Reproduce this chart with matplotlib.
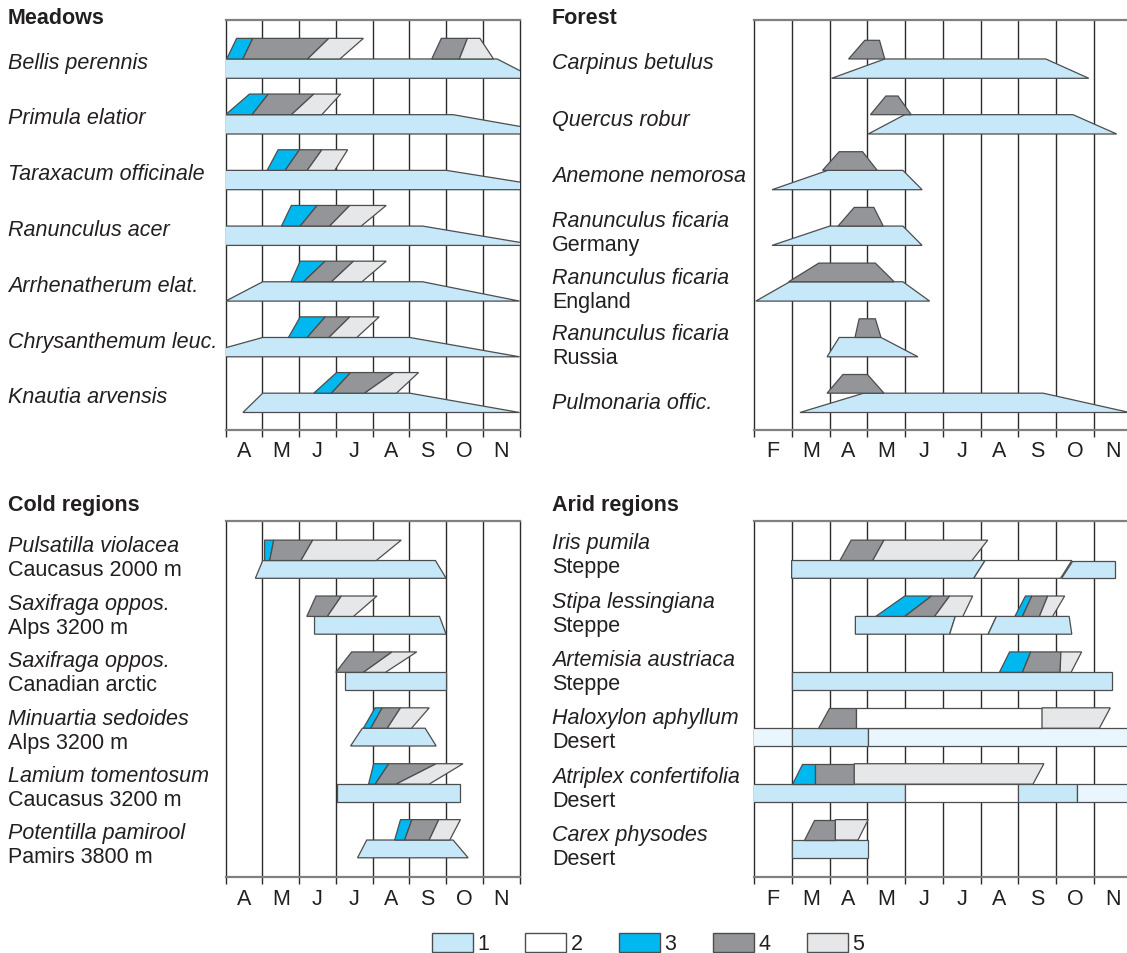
import matplotlib
matplotlib.use('Agg')
import matplotlib.pyplot as plt
from matplotlib.patches import Polygon, Patch

plt.rcParams['font.family'] = ['Liberation Sans', 'DejaVu Sans']

W, H = 1127, 954
fig = plt.figure(figsize=(W / 100, H / 100), dpi=100)

# colour codes used below: 0 = pale blue, 1..5 = legend entries
colors = {0: '#EAF6FD', 1: '#C6E8F8', 2: '#FFFFFF', 3: '#00B8F0', 4: '#939598', 5: '#E6E7E8'}
edge = '#4D4D4D'
ink = '#231F20'
fs = 15.5

months_8 = ['A', 'M', 'J', 'J', 'A', 'S', 'O', 'N']
months_10 = ['F', 'M', 'A', 'M', 'J', 'J', 'A', 'S', 'O', 'N']

# every strip is a list of boundaries (x at bottom edge, x at top edge) in months
# from the first month shown, plus the colour code of each piece between them

# ---------- Meadows
meadow_names = ['Bellis perennis', 'Primula elatior', 'Taraxacum officinale', 'Ranunculus acer',
                'Arrhenatherum elat.', 'Chrysanthemum leuc.', 'Knautia arvensis']
meadow_subs = [''] * 7
meadow_bars = [
    ([(-0.05, -0.05), (8.41, 7.39)], [1]),
    ([(-0.05, -0.05), (9.18, 6.19)], [1]),
    ([(-0.05, -0.05), (9.31, 6.01)], [1]),
    ([(-0.05, -0.05), (8.5, 5.36)], [1]),
    ([(0.0, 1.01), (8.0, 5.36)], [1]),
    ([(-0.89, 1.01), (8.0, 5.01)], [1]),
    ([(0.47, 1.01), (8.0, 5.01)], [1]),
]
meadow_bands = [
    [([(0.03, 0.30), (0.47, 0.74), (2.23, 2.81), (3.11, 3.75)], [3, 4, 5]),
     ([(5.61, 5.87), (6.36, 6.58), (7.29, 6.92)], [4, 5])],
    [([(0.0, 0.65), (0.72, 1.16), (1.79, 2.40), (2.62, 3.13)], [3, 4, 5])],
    [([(1.13, 1.43), (1.62, 2.01), (2.22, 2.62), (2.97, 3.32)], [3, 4, 5])],
    [([(1.52, 1.79), (2.03, 2.49), (2.83, 3.38), (3.69, 4.37)], [3, 4, 5])],
    [([(1.78, 2.03), (2.12, 2.71), (2.88, 3.48), (3.71, 4.37)], [3, 4, 5])],
    [([(1.71, 2.03), (2.22, 2.71), (2.81, 3.38), (3.57, 4.18)], [3, 4, 5])],
    [([(2.40, 3.02), (2.88, 3.40), (3.78, 4.58), (4.65, 5.25)], [3, 4, 5])],
]

# ---------- Forest
forest_names = ['Carpinus betulus', 'Quercus robur', 'Anemone nemorosa', 'Ranunculus ficaria',
                'Ranunculus ficaria', 'Ranunculus ficaria', 'Pulmonaria offic.']
forest_subs = ['', '', '', 'Germany', 'England', 'Russia', '']
forest_bars = [
    ([(2.05, 3.46), (8.87, 7.73)], [1]),
    ([(3.02, 3.99), (9.61, 8.45)], [1]),
    ([(0.47, 1.95), (4.45, 3.94)], [1]),
    ([(0.47, 2.00), (4.45, 3.94)], [1]),
    ([(0.04, 0.94), (4.65, 3.94)], [1]),
    ([(1.93, 2.25), (4.34, 3.36)], [1]),
    ([(1.21, 2.90), (9.95, 7.66)], [1]),
]
forest_bands = [
    [([(2.50, 2.93), (3.46, 3.32)], [4])],
    [([(3.08, 3.49), (4.16, 3.81)], [4])],
    [([(1.81, 2.25), (3.26, 2.87)], [4])],
    [([(2.22, 2.65), (3.42, 3.17)], [4])],
    [([(0.91, 1.71), (3.71, 3.21)], [4])],
    [([(2.67, 2.78), (3.36, 3.21)], [4])],
    [([(1.93, 2.35), (3.44, 3.00)], [4])],
]

# ---------- Cold regions
cold_names = ['Pulsatilla violacea', 'Saxifraga oppos.', 'Saxifraga oppos.', 'Minuartia sedoides',
              'Lamium tomentosum', 'Potentilla pamirool']
cold_subs = ['Caucasus 2000 m', 'Alps 3200 m', 'Canadian arctic', 'Alps 3200 m',
             'Caucasus 3200 m', 'Pamirs 3800 m']
cold_bars = [
    ([(0.81, 1.01), (6.00, 5.71)], [1]),
    ([(2.42, 2.42), (6.00, 5.82)], [1]),
    ([(3.26, 3.26), (6.00, 6.00)], [1]),
    ([(3.40, 3.72), (5.73, 5.43)], [1]),
    ([(3.02, 3.02), (6.37, 6.37)], [1]),
    ([(3.59, 3.84), (6.60, 6.19)], [1]),
]
cold_bands = [
    [([(1.06, 1.06), (1.20, 1.31), (2.05, 2.37), (4.10, 4.78)], [3, 4, 5])],
    [([(2.21, 2.46), (2.77, 3.15), (3.48, 4.12)], [4, 5])],
    [([(3.00, 3.43), (3.75, 4.53), (4.35, 5.20)], [4, 5])],
    [([(3.75, 4.07), (3.95, 4.26), (4.40, 4.76), (5.06, 5.54)], [3, 4, 5])],
    [([(3.89, 4.03), (4.07, 4.44), (4.64, 5.73), (5.54, 6.46)], [3, 4, 5])],
    [([(4.60, 4.76), (4.87, 5.07), (5.54, 5.80), (6.10, 6.39)], [3, 4, 5])],
]

# ---------- Arid regions
arid_names = ['Iris pumila', 'Stipa lessingiana', 'Artemisia austriaca', 'Haloxylon aphyllum',
              'Atriplex confertifolia', 'Carex physodes']
arid_subs = ['Steppe', 'Steppe', 'Steppe', 'Desert', 'Desert', 'Desert']
arid_bars = [
    ([(0.99, 0.99), (5.82, 6.12), (8.12, 8.42), (9.56, 9.56)], [1, 2, 1]),
    ([(2.68, 2.68), (5.18, 5.33), (6.20, 6.42), (8.42, 8.35)], [1, 2, 1]),
    ([(0.99, 0.99), (9.49, 9.49)], [1]),
    ([(-0.1, -0.1), (0.99, 0.99), (3.02, 3.02), (10.3, 10.3)], [0, 1, 0]),
    ([(-0.1, -0.1), (3.99, 3.99), (6.99, 6.99), (8.55, 8.55), (10.3, 10.3)], [1, 2, 1, 0]),
    ([(0.99, 0.99), (3.02, 3.02)], [1]),
]
arid_bands = [
    [([(2.27, 2.57), (3.14, 3.44), (5.77, 6.19)], [4, 5])],
    [([(3.22, 3.99), (3.99, 4.70), (4.78, 5.18), (5.53, 5.79)], [3, 4, 5]),
     ([(6.91, 7.19), (7.11, 7.36), (7.56, 7.78), (7.91, 8.23)], [3, 4, 5])],
    [([(6.50, 6.77), (7.11, 7.33), (8.11, 8.13), (8.40, 8.68)], [3, 4, 5])],
    [([(1.68, 1.98), (2.70, 2.70), (7.63, 7.63), (9.15, 9.44)], [4, 2, 5])],
    [([(0.99, 1.26), (1.61, 1.61), (2.65, 2.65), (7.39, 7.68)], [3, 4, 5])],
    [([(1.31, 1.59), (2.15, 2.15), (2.75, 3.02)], [4, 5])],
]


def strip(ax, y_bottom, height, bounds, codes):
    for k, c in enumerate(codes):
        (b0, t0), (b1, t1) = bounds[k], bounds[k + 1]
        pts = [(b0, y_bottom), (b1, y_bottom), (t1, y_bottom - height), (t0, y_bottom - height)]
        ax.add_patch(Polygon(pts, closed=True, facecolor=colors[c], edgecolor=edge,
                             lw=0.9, joinstyle='miter', zorder=3))


def panel(box, months, title, title_y, names, subs, bars, bands, label_x, label_y0, label_step,
          pitch, first, bar_h, band_h):
    left, top, right, bottom = box
    ax = fig.add_axes([left / W, 1 - bottom / H, (right - left) / W, (bottom - top) / H])
    n = len(months)
    rows = (bottom - top) / pitch
    ax.set_xlim(0, n)
    ax.set_ylim(rows, 0)

    ax.vlines(range(1, n), 0, rows, colors='#2B2B2B', lw=1.0, zorder=1)
    for i in range(len(names)):
        yb = first + i
        strip(ax, yb, bar_h, bars[i][0], bars[i][1])
        for b, c in bands[i]:
            strip(ax, yb - bar_h, band_h, b, c)

    ax.set_xticks(range(n + 1))
    ax.set_xticklabels([])
    ax.set_xticks([k + 0.5 for k in range(n)], minor=True)
    ax.set_xticklabels(months, minor=True, fontsize=fs, color=ink)
    ax.tick_params(axis='x', which='major', length=5.2, width=1.0, color='#2B2B2B', direction='out')
    ax.tick_params(axis='x', which='minor', length=0, pad=7.5)
    ax.set_yticks([])
    for s in ['top', 'bottom']:
        ax.spines[s].set_color('#808080')
        ax.spines[s].set_linewidth(1.6)
    for s in ['left', 'right']:
        ax.spines[s].set_color('#2B2B2B')
        ax.spines[s].set_linewidth(1.0)

    fig.text(label_x / W, 1 - title_y / H, title, fontsize=fs, fontweight='bold',
             color=ink, va='center', ha='left')
    for i, name in enumerate(names):
        yc = label_y0 + i * label_step
        if subs[i]:
            fig.text(label_x / W, 1 - (yc - 12) / H, name, fontsize=fs, style='italic',
                     color=ink, va='center', ha='left')
            fig.text(label_x / W, 1 - (yc + 12) / H, subs[i], fontsize=fs,
                     color=ink, va='center', ha='left')
        else:
            fig.text(label_x / W, 1 - yc / H, name, fontsize=fs, style='italic',
                     color=ink, va='center', ha='left')
    return ax


panel((225.6, 20.7, 519.6, 431.0), months_8, 'Meadows', 18, meadow_names, meadow_subs,
      meadow_bars, meadow_bands, 8, 63.2, 55.8, 55.7, 58.6 / 55.7, 0.347, 0.37)
panel((754.3, 20.7, 1131.4, 431.0), months_10, 'Forest', 18, forest_names, forest_subs,
      forest_bars, forest_bands, 552, 63.8, 56.6, 55.7, 58.6 / 55.7, 0.347, 0.335)
panel((225.6, 521.7, 519.6, 878.3), months_8, 'Cold regions', 506, cold_names, cold_subs,
      cold_bars, cold_bands, 8, 559.0, 57.4, 55.9, 57.6 / 55.9, 0.318, 0.365)
panel((754.3, 521.7, 1131.4, 878.3), months_10, 'Arid regions', 506, arid_names, arid_subs,
      arid_bars, arid_bands, 552, 556.0, 58.3, 55.9, 57.6 / 55.9, 0.318, 0.365)

handles = [Patch(facecolor=colors[k], edgecolor=edge, lw=1.0, label=str(k)) for k in range(1, 6)]
fig.legend(handles=handles, loc='lower left', bbox_to_anchor=(431.7 / W, -1.5 / H), ncol=5,
           frameon=False, fontsize=fs, handlelength=1.9, handleheight=0.97,
           handletextpad=0.2, columnspacing=1.7, borderpad=0, borderaxespad=0,
           labelcolor=ink)

fig.savefig('out.png', dpi=100)
